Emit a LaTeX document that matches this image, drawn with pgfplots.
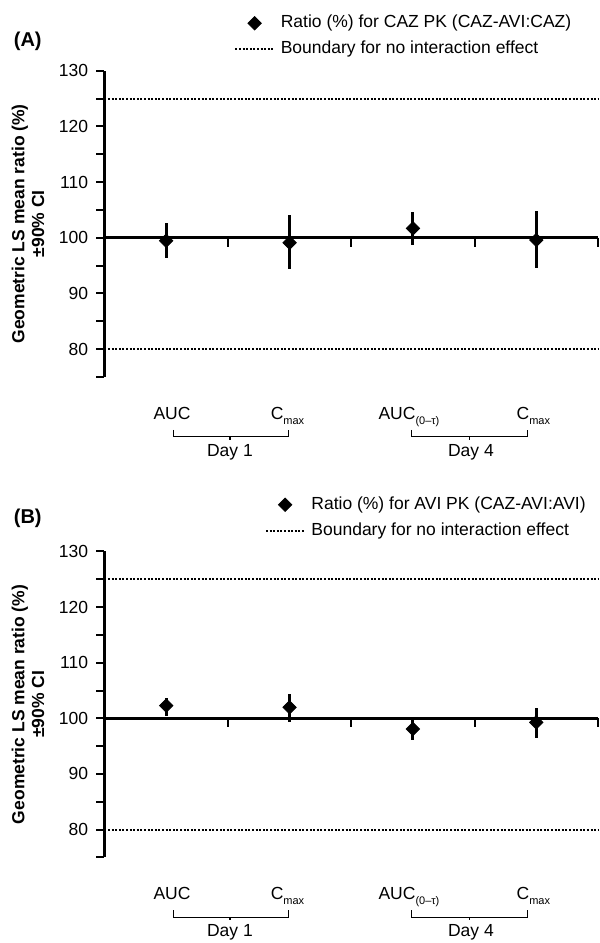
\documentclass[border=0pt]{standalone}
\usepackage{pgfplots}
\pgfplotsset{compat=1.18}
\usepackage{fontspec}
\setmainfont{Liberation Sans}
\newcommand{\lbl}{\fontsize{8.75}{10}\selectfont}
\newcommand{\sub}[1]{\raisebox{-2.5pt}{\fontsize{5.5}{6}\selectfont #1}}
\pgfplotsset{
  panel/.style={
    scale only axis, width=246.75pt, height=153pt,
    xmin=0, xmax=4, ymin=75, ymax=130,
    axis y line=left, axis x line=none, xtick=\empty,
    axis line style={-, line width=1.5pt},
    ytick={80,90,...,130}, minor ytick={75,85,...,125},
    tick align=outside, major tick length=4pt, minor tick length=4pt,
    every tick/.style={black, line width=1pt},
    clip=false,
    /pgf/number format/assume math mode=true,
    tick label style={font=\lbl},
    yticklabel style={inner sep=0pt, xshift=-4pt},
    ylabel={Geometric LS mean ratio (\%)\\±90\% CI},
    ylabel style={at={(rel axis cs:-0.155,0.5)}, anchor=center,
      align=center, font=\fontsize{8.75}{9.85}\selectfont\bfseries},
    legend cell align=left,
    legend style={draw=none, fill=none, inner sep=0pt, outer sep=0pt,
      anchor=west, row sep=4.5pt, font=\lbl,
      nodes={inner sep=0pt, text height=6.5pt, text depth=2pt},
      /tikz/every odd column/.style={column sep=3pt}},
  },
  dataleg/.style={legend image code/.code={\draw[mark repeat=2, mark phase=2, ##1] plot coordinates {(0pt,0pt) (9.6pt,0pt) (19.2pt,0pt)};}},
  dataplot/.style={black, only marks, mark=square*, mark size=2.36pt,
    mark options={rotate=45, fill=black},
    error bars/.cd, y dir=both, y explicit, error mark=none,
    error bar style={line width=1.5pt, black}, /pgfplots/.cd},
  bound/.style={black, line width=1pt, dash pattern=on 1pt off 0.8pt,
    legend image code/.code={\draw[##1] (0pt,0pt) -- (19.2pt,0pt);}},
}
\pgfplotstableread{
x   y      ep    em
0.5 99.46  3.12  3.17
1.5 99.10  4.97  4.73
2.5 101.68 2.87  3.00
3.5 99.58  5.21  5.09
}\dataA
\pgfplotstableread{
x   y      ep    em
0.5 102.28 1.44  1.80
1.5 101.98 2.39  2.58
2.5 98.08  2.04  1.98
3.5 99.28  2.64  2.76
}\dataB
\begin{document}
\begin{tikzpicture}
\path[use as bounding box] (-52.25pt,-283.1pt) rectangle (247.75pt,188.4pt);
% ---------------- Panel A
\begin{axis}[panel, legend style={at={(axis cs:1.053,136.2)}}]
\addplot[black, line width=1.5pt, forget plot] coordinates {(0,100) (4,100)};
\addplot[bound, forget plot] coordinates {(0,80) (4,80)};
\addplot[dataleg, dataplot] table[x=x, y=y, y error plus=ep, y error minus=em] {\dataA};
\addlegendentry{Ratio (\%) for CAZ PK (CAZ-AVI:CAZ)}
\addplot[bound] coordinates {(0,125) (4,125)};
\addlegendentry{Boundary for no interaction effect}
\draw[line width=1pt] (axis cs:1,100) -- ++(0pt,-4.5pt) (axis cs:2,100) -- ++(0pt,-4.5pt)
  (axis cs:3,100) -- ++(0pt,-4.5pt) (axis cs:4,100) -- ++(0pt,-4.5pt);
\node[anchor=west, inner sep=0pt, font=\fontsize{10}{12}\selectfont\bfseries] at (axis cs:-0.738,135.36) {(A)};
\node[anchor=base, font=\lbl] at (axis cs:0.547,67.4) {AUC};
\node[anchor=base, font=\lbl] at (axis cs:1.483,67.4) {C\sub{max}};
\node[anchor=base, font=\lbl] at (axis cs:2.468,67.4) {AUC\sub{(0–τ)}};
\node[anchor=base, font=\lbl] at (axis cs:3.476,67.4) {C\sub{max}};
\draw[line width=0.6pt] (axis cs:0.558,65.47) |- (axis cs:1.49,64.27) -- (axis cs:1.49,65.47);
\draw[line width=0.6pt] (axis cs:1.017,64.27) -- (axis cs:1.017,63.68);
\draw[line width=0.6pt] (axis cs:2.491,65.47) |- (axis cs:3.429,64.27) -- (axis cs:3.429,65.47);
\draw[line width=0.6pt] (axis cs:2.956,64.27) -- (axis cs:2.956,63.68);
\node[anchor=base, font=\lbl] at (axis cs:1.017,60.7) {Day 1};
\node[anchor=base, font=\lbl] at (axis cs:2.97,60.7) {Day 4};
\end{axis}
% ---------------- Panel B
\begin{axis}[panel, at={(0pt,-240.3pt)}, legend style={at={(axis cs:1.301,136.05)}}]
\addplot[black, line width=1.5pt, forget plot] coordinates {(0,100) (4,100)};
\addplot[bound, forget plot] coordinates {(0,80) (4,80)};
\addplot[dataleg, dataplot] table[x=x, y=y, y error plus=ep, y error minus=em] {\dataB};
\addlegendentry{Ratio (\%) for AVI PK (CAZ-AVI:AVI)}
\addplot[bound] coordinates {(0,125) (4,125)};
\addlegendentry{Boundary for no interaction effect}
\draw[line width=1pt] (axis cs:1,100) -- ++(0pt,-4.5pt) (axis cs:2,100) -- ++(0pt,-4.5pt)
  (axis cs:3,100) -- ++(0pt,-4.5pt) (axis cs:4,100) -- ++(0pt,-4.5pt);
\node[anchor=west, inner sep=0pt, font=\fontsize{10}{12}\selectfont\bfseries] at (axis cs:-0.738,136.0) {(B)};
\node[anchor=base, font=\lbl] at (axis cs:0.547,67.4) {AUC};
\node[anchor=base, font=\lbl] at (axis cs:1.483,67.4) {C\sub{max}};
\node[anchor=base, font=\lbl] at (axis cs:2.468,67.4) {AUC\sub{(0–τ)}};
\node[anchor=base, font=\lbl] at (axis cs:3.476,67.4) {C\sub{max}};
\draw[line width=0.6pt] (axis cs:0.558,65.47) |- (axis cs:1.49,64.27) -- (axis cs:1.49,65.47);
\draw[line width=0.6pt] (axis cs:1.017,64.27) -- (axis cs:1.017,63.68);
\draw[line width=0.6pt] (axis cs:2.491,65.47) |- (axis cs:3.429,64.27) -- (axis cs:3.429,65.47);
\draw[line width=0.6pt] (axis cs:2.956,64.27) -- (axis cs:2.956,63.68);
\node[anchor=base, font=\lbl] at (axis cs:1.017,60.7) {Day 1};
\node[anchor=base, font=\lbl] at (axis cs:2.97,60.7) {Day 4};
\end{axis}
\end{tikzpicture}
\end{document}
